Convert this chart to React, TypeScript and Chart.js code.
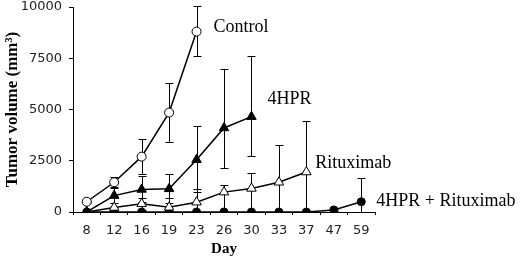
import React, { useEffect, useRef } from "react";
import { Chart, registerables } from "chart.js";

Chart.register(...registerables);

const days = ["8", "12", "16", "19", "23", "26", "30", "33", "37", "47", "59"];
const yTicks = [0, 2500, 5000, 7500, 10000];

const control = [500, 1450, 2700, 4850, 8800, null, null, null, null, null, null];
const controlHi = [560, 1700, 3550, 6280, 10050, null, null, null, null, null, null];
const controlLo = [440, 1200, 1850, 3400, 7600, null, null, null, null, null, null];

const hpr = [0, 800, 1100, 1130, 2550, 4100, 4650, null, null, null, null];
const hprHi = [0, 1150, 1750, 1830, 4200, 7000, 7600, null, null, null, null];
const hprLo = [0, 450, 500, 450, 1000, 2150, 2750, null, null, null, null];

const ritux = [0, 220, 400, 230, 480, 970, 1150, 1450, 1950, null, null];
const rituxHi = [0, 450, 700, 700, 1100, 1300, 1900, 3250, 4450, null, null];
const rituxLo = [0, 0, 100, 0, 0, 0, 0, 0, 0, null, null];

const combo = [0, 0, 0, 0, 0, 0, 0, 0, 0, 100, 500];
const comboHi = [0, 0, 0, 0, 0, 0, 0, 0, 0, 170, 1680];
const comboLo = [0, 0, 0, 0, 0, 0, 0, 0, 0, 30, 0];

const seriesNames = ["Control", "4HPR", "Rituximab", "4HPR + Rituximab"];

const errHi = [controlHi, hprHi, rituxHi, comboHi];
const errLo = [controlLo, hprLo, rituxLo, comboLo];

const labelOffsets = [
  { dx: 17, dy: -4 },
  { dx: 16, dy: -17 },
  { dx: 9, dy: -9 },
  { dx: 15, dy: 0 },
];

const errorBarPlugin = {
  id: "errorBars",
  beforeDatasetsDraw(chart: any) {
    const ctx = chart.ctx;
    const x = chart.scales.x;
    const y = chart.scales.y;
    ctx.save();
    ctx.strokeStyle = "#000";
    ctx.lineWidth = 1;
    errHi.forEach((hiArr, si) => {
      const loArr = errLo[si];
      hiArr.forEach((hi, i) => {
        if (hi === null) return;
        const lo = loArr[i] as number;
        if (hi === lo) return;
        const px = Math.round(x.getPixelForValue(i)) + 0.5;
        const yh = Math.round(y.getPixelForValue(hi)) + 0.5;
        const yl = Math.round(y.getPixelForValue(lo)) + 0.5;
        ctx.beginPath();
        ctx.moveTo(px, yh);
        ctx.lineTo(px, yl);
        ctx.moveTo(px - 4, yh);
        ctx.lineTo(px + 4, yh);
        ctx.moveTo(px - 4, yl);
        ctx.lineTo(px + 4, yl);
        ctx.stroke();
      });
    });
    ctx.restore();
  },
  afterDraw(chart: any) {
    const ctx = chart.ctx;
    const x = chart.scales.x;
    const y = chart.scales.y;
    ctx.save();
    ctx.fillStyle = "#000";
    ctx.font = "18px 'Liberation Serif'";
    ctx.textAlign = "left";
    ctx.textBaseline = "middle";
    chart.data.datasets.forEach((ds: any, si: number) => {
      let last = -1;
      ds.data.forEach((v: any, i: number) => {
        if (v !== null) last = i;
      });
      if (last < 0) return;
      const px = x.getPixelForValue(last);
      const py = y.getPixelForValue(ds.data[last]);
      ctx.fillText(seriesNames[si], px + labelOffsets[si].dx, py + labelOffsets[si].dy);
    });
    ctx.font = "bold 15px 'Liberation Serif'";
    ctx.textAlign = "center";
    ctx.fillText("Day", (chart.chartArea.left + chart.chartArea.right) / 2, 249);
    ctx.translate(13, (chart.chartArea.top + chart.chartArea.bottom) / 2);
    ctx.rotate(-Math.PI / 2);
    ctx.font = "bold 17px 'Liberation Serif'";
    ctx.fillText("Tumor volume (mm³)", 0, 0);
    ctx.restore();
  },
};

export default function App() {
  const ref = useRef<HTMLCanvasElement>(null);
  useEffect(() => {
    if (!ref.current) return;
    const common = {
      borderColor: "#000",
      borderWidth: 1.5,
      pointBorderColor: "#000",
      pointBorderWidth: 1,
      tension: 0,
      spanGaps: false,
    };
    const chart = new Chart(ref.current, {
      type: "line",
      data: {
        labels: days,
        datasets: [
          { ...common, label: seriesNames[0], data: control, pointStyle: "circle", pointRadius: 4.5, pointBackgroundColor: "#fff" },
          { ...common, label: seriesNames[1], data: hpr, pointStyle: "triangle", pointRadius: 5.5, pointBackgroundColor: "#000" },
          { ...common, label: seriesNames[2], data: ritux, pointStyle: "triangle", pointRadius: 5.5, pointBackgroundColor: "#fff" },
          { ...common, label: seriesNames[3], data: combo, pointStyle: "circle", pointRadius: 4, pointBackgroundColor: "#000" },
        ],
      },
      options: {
        responsive: false,
        animation: false,
        layout: { padding: { top: 7, right: 145, left: 0, bottom: 0 } },
        plugins: { legend: { display: false }, tooltip: { enabled: false } },
        scales: {
          x: {
            type: "category",
            offset: true,
            grid: { display: true, drawOnChartArea: false, drawTicks: true, tickLength: 3, offset: true, color: "#000" },
            border: { display: true, color: "#000", width: 1 },
            ticks: { color: "#222", font: { family: "'DejaVu Sans'", size: 13 }, padding: 8, maxRotation: 0, autoSkip: false },
            afterFit: (s: any) => { s.height = 48; s.paddingLeft = 0; s.paddingRight = 0; },
          },
          y: {
            min: 0,
            max: 10000,
            afterBuildTicks: (s: any) => { s.ticks = yTicks.map((v) => ({ value: v })); },
            grid: { display: true, drawOnChartArea: false, drawTicks: true, tickLength: 4, color: "#000" },
            border: { display: true, color: "#000", width: 1 },
            ticks: { color: "#222", font: { family: "'DejaVu Sans'", size: 13 }, padding: 7, callback: (v: any) => String(v) },
            afterFit: (s: any) => { s.width = 73; s.paddingTop = 0; s.paddingBottom = 0; },
          },
        },
      },
      plugins: [errorBarPlugin],
    } as any);
    return () => chart.destroy();
  }, []);
  return (
    <div style={{ position: "fixed", left: 0, top: 0, width: 520, height: 260, background: "#fff" }}>
      <canvas ref={ref} width={520} height={260} style={{ display: "block" }} />
    </div>
  );
}
